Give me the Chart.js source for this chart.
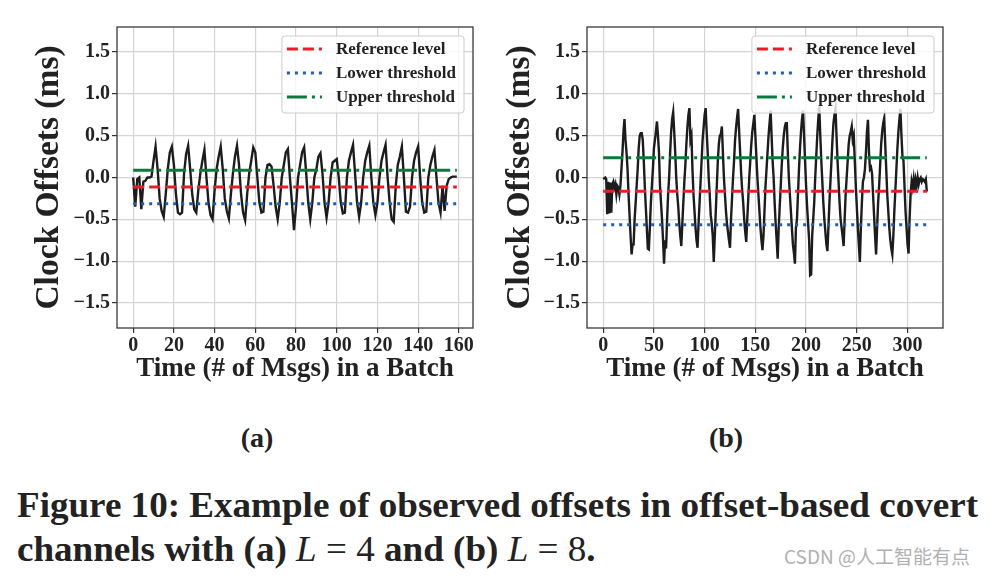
<!DOCTYPE html>
<html>
<head>
<meta charset="utf-8">
<script src="https://cdn.jsdelivr.net/npm/chart.js@4.4.0/dist/chart.umd.min.js"></script>
<style>
  body { margin: 0; background: #fff; width: 990px; height: 576px; overflow: hidden; position: relative; font-family: "Liberation Serif", serif; }
  .plot { position: absolute; top: 0; width: 495px; height: 400px; }
  #plotA { left: 0; }
  #plotB { left: 495px; }
  .sub { position: absolute; top: 421px; line-height: 34px; font-weight: bold; font-size: 28px; color: #222; transform: translateX(-50%); }
  .cap { position: absolute; left: 17px; line-height: 40px; font-weight: bold; font-size: 36px; color: #222; white-space: nowrap; transform-origin: 0 0; }
  .cap i { font-weight: normal; }
  .cap .m { font-weight: normal; }
  .wm { position: absolute; left: 784px; top: 544px; font-family: "Noto Sans CJK SC", sans-serif; font-size: 19px; line-height: 24px; color: #b0b0b0; white-space: nowrap; }
</style>
</head>
<body>
<canvas id="plotA" class="plot" width="495" height="400"></canvas>
<canvas id="plotB" class="plot" width="495" height="400"></canvas>
<div class="sub" style="left:257px">(a)</div>
<div class="sub" style="left:726px">(b)</div>
<div class="cap" id="cap1" style="top:485px">Figure 10: Example of observed offsets in offset-based covert</div>
<div class="cap" id="cap2" style="top:529px">channels with (a) <i>L</i> <span class="m">= 4</span> and (b) <i>L</i> <span class="m">= 8</span>.</div>
<div class="wm">CSDN @人工智能有点</div>
<script>
// 데이터
const xTicksA = [0, 20, 40, 60, 80, 100, 120, 140, 160];
const xTicksB = [0, 50, 100, 150, 200, 250, 300];
const yTicks = [-1.5, -1.0, -0.5, 0.0, 0.5, 1.0, 1.5];
const levelNames = ['Reference level', 'Lower threshold', 'Upper threshold'];
const levelsA = [-0.115, -0.315, 0.087];
const levelsB = [-0.165, -0.565, 0.235];

// (a) L = 4, 160 msgs
const offsetsA = [
    0.0, -0.35, -0.02, 0.0, -0.38, -0.05, -0.04, 0.0, 0.0, 0.01,
    0.2, 0.37, 0.1, -0.25, -0.4, -0.47, -0.2, 0.1, 0.3, 0.37,
    0.15, -0.2, -0.42, -0.44, -0.42, 0.05, 0.28, 0.38, 0.1, -0.2,
    -0.38, -0.42, -0.15, 0.05, 0.2, 0.33, 0.0, -0.3, -0.45, -0.5,
    -0.15, 0.1, 0.25, 0.37, 0.1, -0.25, -0.4, -0.49, -0.2, 0.05,
    0.25, 0.38, 0.15, -0.2, -0.42, -0.51, -0.2, 0.05, 0.2, 0.36,
    0.3, 0.0, -0.3, -0.42, -0.41, 0.0, 0.15, 0.16, 0.13, -0.1,
    -0.35, -0.5, -0.3, 0.0, 0.15, 0.3, 0.34, 0.0, -0.3, -0.63,
    -0.35, 0.0, 0.15, 0.3, 0.36, 0.05, -0.3, -0.5, -0.3, 0.0,
    0.1, 0.25, 0.29, 0.05, -0.3, -0.48, -0.3, 0.0, 0.18, 0.2,
    0.22, 0.0, -0.3, -0.43, -0.42, 0.0, 0.2, 0.3, 0.39, 0.05,
    -0.3, -0.47, -0.3, 0.0, 0.2, 0.3, 0.38, 0.0, -0.3, -0.45,
    -0.3, 0.0, 0.2, 0.3, 0.39, 0.0, -0.3, -0.5, -0.53, -0.1,
    0.15, 0.25, 0.37, 0.0, -0.41, -0.42, -0.35, 0.0, 0.2, 0.3,
    0.37, 0.0, -0.3, -0.42, -0.41, 0.0, 0.15, 0.25, 0.33, 0.0,
    -0.3, -0.42, -0.1, -0.4, -0.1, -0.02, 0.0, 0.01, 0.01, 0.01
];

// (b) L = 8, 320 msgs
const offsetsB = [
    -0.02, -0.01, 0.0, -0.02, -0.44, -0.05, -0.43, -0.06, -0.42, -0.08,
    -0.05, -0.12, -0.08, -0.2, -0.1, -0.12, -0.2, -0.1, 0.1, 0.3,
    0.55, 0.7, 0.45, 0.3, 0.1, -0.2, -0.45, -0.7, -0.92, -0.8,
    -0.8, -0.5, -0.3, -0.1, 0.1, 0.35, 0.5, 0.53, 0.53, 0.45,
    0.2, -0.1, -0.35, -0.6, -0.85, -0.86, -0.6, -0.3, -0.1, 0.1,
    0.35, 0.45, 0.55, 0.67, 0.5, 0.3, -0.1, -0.3, -0.5, -0.75,
    -1.03, -0.75, -0.85, -0.5, -0.2, 0.0, 0.3, 0.55, 0.7, 0.78,
    0.55, 0.3, 0.0, -0.2, -0.35, -0.55, -0.7, -0.82, -0.55, -0.3,
    -0.05, 0.15, 0.4, 0.6, 0.75, 0.83, 0.45, 0.5, 0.1, -0.2,
    -0.4, -0.6, -0.75, -0.84, -0.55, -0.3, -0.05, 0.2, 0.45, 0.6,
    0.75, 0.83, 0.55, 0.3, 0.0, -0.2, -0.45, -0.55, -0.7, -1.01,
    -0.7, -0.4, -0.1, 0.2, 0.4, 0.5, 0.52, 0.61, 0.3, 0.0,
    -0.2, -0.4, -0.55, -0.65, -0.75, -0.84, -0.5, -0.25, 0.0, 0.2,
    0.45, 0.6, 0.72, 0.82, 0.55, 0.3, 0.05, -0.15, -0.3, -0.5,
    -0.65, -0.77, -0.5, -0.25, 0.0, 0.2, 0.4, 0.55, 0.65, 0.75,
    0.5, 0.25, 0.0, -0.2, -0.4, -0.6, -0.75, -0.87, -0.7, -0.4,
    -0.1, 0.1, 0.3, 0.5, 0.65, 0.8, 0.5, 0.2, 0.0, -0.3,
    -0.55, -0.75, -0.97, -0.6, -0.35, -0.1, 0.15, 0.35, 0.5, 0.6,
    0.65, 0.65, 0.3, 0.0, -0.2, -0.4, -0.6, -0.8, -0.9, -1.03,
    -0.6, -0.5, -0.2, 0.1, 0.35, 0.55, 0.7, 0.8, 0.5, 0.2,
    -0.1, -0.35, -0.55, -0.75, -1.17, -1.16, -0.7, -0.5, -0.3, 0.0,
    0.25, 0.5, 0.7, 0.85, 0.5, 0.2, -0.05, -0.3, -0.5, -0.65,
    -0.8, -0.88, -0.6, -0.3, -0.05, 0.2, 0.45, 0.65, 0.75, 0.82,
    0.5, 0.2, -0.05, -0.3, -0.5, -0.6, -0.7, -0.82, -0.5, -0.2,
    0.0, 0.2, 0.4, 0.5, 0.55, 0.61, 0.45, 0.5, 0.2, -0.1,
    -0.35, -0.6, -0.8, -1.01, -0.6, -0.3, -0.05, 0.0, 0.1, 0.3,
    0.55, 0.69, 0.3, 0.1, 0.12, 0.05, -0.2, -0.45, -0.7, -0.92,
    -0.6, -0.3, -0.1, 0.15, 0.4, 0.55, 0.65, 0.71, 0.4, 0.1,
    -0.2, -0.4, -0.6, -0.75, -0.85, -0.92, -0.7, -0.4, -0.15, 0.1,
    0.35, 0.55, 0.7, 0.82, 0.5, 0.25, 0.2, -0.1, -0.4, -0.6,
    -0.8, -0.91, -0.5, -0.2, -0.05, -0.12, -0.02, -0.15, -0.03, -0.1,
    0.0, -0.08, -0.02, 0.0, -0.05, -0.02, -0.03, -0.05, -0.02, -0.17
];

// 스타일
const levelStyles = [
    { color: '#ec1c24', dash: [11, 5] },
    { color: '#1f5cb8', dash: [3, 5] },
    { color: '#0a7a3c', dash: [20, 5, 3, 5] }
];
const FONT = 'Liberation Serif';
const TEXT = '#222';

// 테두리 + matplotlib 스타일 범례
const framePlugin = {
    id: 'frameLegend',
    afterDatasetsDraw(chart) {
        const ctx = chart.ctx;
        const a = chart.chartArea;
        ctx.save();
        ctx.strokeStyle = '#3a3a3a';
        ctx.lineWidth = 1.3;
        ctx.strokeRect(a.left, a.top, a.right - a.left, a.bottom - a.top);

        const items = chart.data.datasets.filter(d => d.label);
        ctx.font = 'bold 17px "' + FONT + '"';
        const textW = Math.max(...items.map(d => ctx.measureText(d.label).width));
        const w = 54 + textW + 8;
        const h = 77;
        const x = a.right - 9 - w;
        const y = a.top + 9;
        ctx.beginPath();
        ctx.roundRect(x, y, w, h, 3);
        ctx.fillStyle = 'rgba(255,255,255,0.8)';
        ctx.fill();
        ctx.strokeStyle = '#cccccc';
        ctx.lineWidth = 1;
        ctx.stroke();

        items.forEach((d, i) => {
            const cy = y + 13 + i * 24;
            ctx.beginPath();
            ctx.setLineDash(d.borderDash);
            ctx.lineCap = 'butt';
            ctx.strokeStyle = d.borderColor;
            ctx.lineWidth = d.borderWidth;
            ctx.moveTo(x + 5, cy);
            ctx.lineTo(x + 40, cy);
            ctx.stroke();
            ctx.setLineDash([]);
            ctx.fillStyle = TEXT;
            ctx.textBaseline = 'middle';
            ctx.textAlign = 'left';
            ctx.fillText(d.label, x + 54, cy + 1);
        });
        ctx.restore();
    }
};

function makeChart(id, offsets, levels, xTicks, yAxisWidth, yTitlePad, rightPad) {
    const last = offsets.length - 1;
    const datasets = levels.map((v, i) => ({
        label: levelNames[i],
        data: [{ x: 0, y: v }, { x: last, y: v }],
        borderColor: levelStyles[i].color,
        borderDash: levelStyles[i].dash,
        borderWidth: 3,
        borderCapStyle: 'butt',
        pointRadius: 0
    }));
    datasets.push({
        label: '',
        data: offsets.map((v, i) => ({ x: i, y: v })),
        borderColor: '#1c1c1c',
        borderWidth: 2.4,
        pointRadius: 0,
        tension: 0
    });

    const grid = { color: '#d4d4d4', lineWidth: 1.2, tickLength: 5, tickColor: '#333', tickWidth: 1.2 };

    new Chart(document.getElementById(id), {
        type: 'line',
        data: { datasets: datasets },
        options: {
            responsive: false,
            animation: false,
            devicePixelRatio: 1,
            layout: { padding: { left: 0, top: 27, right: rightPad, bottom: 0 } },
            plugins: { legend: { display: false }, tooltip: { enabled: false } },
            scales: {
                x: {
                    type: 'linear',
                    min: -0.05 * last,
                    max: 1.05 * last,
                    afterBuildTicks: s => { s.ticks = xTicks.map(v => ({ value: v })); },
                    afterFit: s => { s.height = 72; },
                    grid: grid,
                    border: { display: false },
                    ticks: {
                        font: { family: FONT, weight: 'bold', size: 20 },
                        color: TEXT, padding: 1, maxRotation: 0, autoSkip: false,
                        callback: v => String(v)
                    },
                    title: {
                        display: true, text: 'Time (# of Msgs) in a Batch', color: TEXT,
                        font: { family: FONT, weight: 'bold', size: 27 },
                        padding: { top: 0, bottom: 15 }
                    }
                },
                y: {
                    min: -1.8,
                    max: 1.8,
                    afterBuildTicks: s => { s.ticks = yTicks.map(v => ({ value: v })); },
                    afterFit: s => { s.width = yAxisWidth; },
                    grid: grid,
                    border: { display: false },
                    ticks: {
                        font: { family: FONT, weight: 'bold', size: 20 },
                        color: TEXT, padding: 2, autoSkip: false,
                        callback: v => (v < 0 ? '\u2212' : '') + Math.abs(v).toFixed(1)
                    },
                    title: {
                        display: true, text: 'Clock Offsets (ms)', color: TEXT,
                        font: { family: FONT, weight: 'bold', size: 33.5 },
                        padding: { top: yTitlePad, bottom: 0 }
                    }
                }
            }
        },
        plugins: [framePlugin]
    });
}

makeChart('plotA', offsetsA, levelsA, xTicksA, 117, 29, 22);
makeChart('plotB', offsetsB, levelsB, xTicksB, 92, 5, 47);

// 캡션 폭 맞추기
const cap1 = document.getElementById('cap1');
const cap2 = document.getElementById('cap2');
const k = 961 / cap1.getBoundingClientRect().width;
cap1.style.transform = 'scaleX(' + k + ')';
cap2.style.transform = 'scaleX(' + k + ')';
</script>
</body>
</html>
